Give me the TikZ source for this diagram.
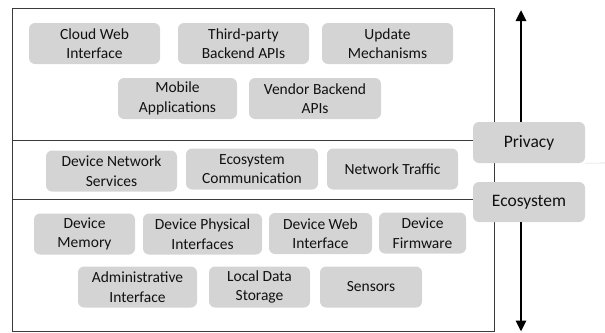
\documentclass[tikz,border=0pt]{standalone}
\usepackage{fontspec}
\setmainfont{Carlito}
\usetikzlibrary{arrows.meta}
\definecolor{boxgray}{HTML}{D4D4D4}
\definecolor{txt}{HTML}{111111}
\definecolor{frameln}{HTML}{3A3A3A}
\begin{document}
\begin{tikzpicture}[x=1pt,y=-1pt,
  item/.style={fill=boxgray, rounded corners=6pt, align=center, inner sep=0pt,
    text=txt, font=\fontsize{15.5}{19.5}\selectfont, minimum height=41pt},
  side/.style={item, font=\fontsize{17.5}{21}\selectfont, minimum width=112pt},
  frame/.style={draw=frameln, line width=1pt},
  bigarrow/.style={line width=2.6pt, -{Triangle[width=10pt,length=11pt]}}]
\useasboundingbox (0,0) rectangle (605,332);
% frame and layer dividers
\draw[frame] (12,8) rectangle (494,331);
\coordinate (d1l) at (12,140); \coordinate (d1r) at (494,140);
\coordinate (d2l) at (12,199); \coordinate (d2r) at (494,199);
\draw[frame] (d1l) -- (d1r);
\draw[frame] (d2l) -- (d2r);
% top layer
\node[item, minimum width=131pt] (cloud) at (94.5,43.5) {Cloud Web\\Interface};
\node[item, minimum width=131pt] (third) at (243.5,43.5) {Third-party\\Backend APIs};
\node[item, minimum width=131pt] (update) at (387.5,43.5) {Update\\Mechanisms};
\node[item, minimum width=119pt] (mobile) at (177.5,98.5) {Mobile\\Applications};
\node[item, minimum width=132pt] (vendor) at (315,98.5) {Vendor Backend\\APIs};
% middle layer
\node[item, minimum width=131pt] (devnet) at (111.5,171) {Device Network\\Services};
\node[item, minimum width=132pt] (ecocomm) at (252,169) {Ecosystem\\Communication};
\node[item, minimum width=131pt] (traffic) at (392.5,169) {Network Traffic};
% bottom layer
\node[item, minimum width=101pt] (memory) at (84.5,234) {Device\\Memory};
\node[item, minimum width=119pt] (phys) at (202.5,234) {Device Physical\\Interfaces};
\node[item, minimum width=103pt] (devweb) at (320.5,233.5) {Device Web\\Interface};
\node[item, minimum width=87pt] (firm) at (422.5,233) {Device\\Firmware};
\node[item, minimum width=119pt] (admin) at (137.5,287) {Administrative\\Interface};
\node[item, minimum width=101pt] (local) at (259.5,287) {Local Data\\Storage};
\node[item, minimum width=102pt] (sensors) at (371,287) {Sensors};
% side labels
\node[side] (privacy) at (529,142.5) {Privacy};
\node[side, minimum height=40pt] (ecosys) at (529,202) {Ecosystem};
\coordinate (sepend) at (605,163);
\draw[gray!30, line width=0.6pt] (privacy.south east) -- (sepend);
% arrows
\coordinate (atop) at (521,10);
\coordinate (abot) at (521,331.5);
\draw[bigarrow] (privacy.north -| atop) -- (atop);
\draw[bigarrow] (ecosys.south -| abot) -- (abot);
\end{tikzpicture}
\end{document}
